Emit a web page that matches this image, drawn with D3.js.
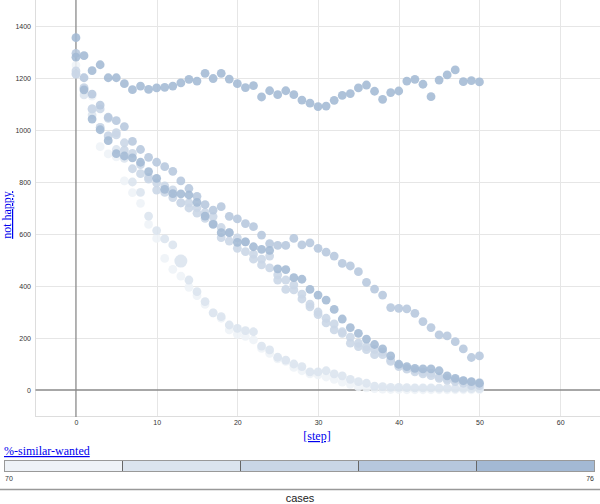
<!DOCTYPE html>
<html><head><meta charset="utf-8">
<script src="https://cdn.jsdelivr.net/npm/d3@7"></script>
<style>
html,body{margin:0;padding:0;background:#fff;}
svg{display:block;}
</style></head>
<body>
<svg id="chart" width="600" height="504"></svg>
<script>
// ---- data ----
const steps = d3.range(0, 51);
const legendValues = [70, 71.5, 73, 74.5, 76];
const legendLabels = ["70", "76"];
const xTicks = [0, 10, 20, 30, 40, 50, 60];
const yTicks = [0, 200, 400, 600, 800, 1000, 1200, 1400];

const seriesA = [1355,1286,1228,1251,1201,1201,1178,1155,1169,1156,1162,1164,1169,1181,1195,1188,1218,1198,1218,1196,1178,1163,1171,1127,1151,1136,1151,1136,1115,1103,1090,1092,1114,1133,1140,1162,1173,1149,1118,1144,1150,1188,1195,1176,1128,1192,1212,1231,1186,1190,1185];
const seriesB = [1295,1201,1138,1096,1049,1036,1013,956,925,895,876,859,841,804,775,745,713,692,705,668,658,640,628,596,563,556,556,583,558,566,545,530,515,487,477,455,414,388,365,317,314,312,295,263,240,212,208,186,158,125,131];
const seriesC = [1280,1154,1042,1001,959,909,900,893,876,840,814,772,755,754,750,722,669,637,605,605,568,570,551,541,537,466,463,432,426,387,365,346,310,273,240,218,196,175,158,131,99,90,83,81,81,74,54,45,36,32,26];
const seriesD = [1227,1163,1081,1081,1045,990,951,910,867,811,797,785,770,720,720,701,682,667,625,605,585,570,523,503,515,443,423,404,369,330,300,276,254,224,203,180,167,156,147,115,95,83,77,70,65,51,45,40,35,30,28];
const seriesE = [1215,1160,1081,1010,977,981,923,851,832,818,769,760,740,720,700,680,660,640,586,573,545,532,503,481,470,423,387,385,350,320,290,258,231,218,180,167,155,136,136,110,90,80,70,62,55,45,38,32,26,17,17];
const seriesF = [1215,1135,1058,1010,977,925,891,800,760,669,613,581,558,496,423,378,340,297,282,250,237,228,224,169,154,126,115,100,90,70,70,74,62,54,41,32,26,15,13,10,10,9,8,8,8,7,7,6,6,5,5];
const seriesG = [1250,1201,1130,936,908,897,804,759,718,637,583,506,464,438,395,363,329,297,276,231,214,206,193,160,141,120,110,87,74,62,58,50,41,30,22,12,8,5,3,2,2,1,1,1,1,1,1,1,1,1,1];

// similar-wanted value of each case (drawn light to dark)
const cases = [
  {wanted: 70,   values: seriesG},
  {wanted: 71.5, values: seriesF, highlight: 13},
  {wanted: 73,   values: seriesE},
  {wanted: 73,   values: seriesD},
  {wanted: 74.5, values: seriesB},
  {wanted: 76,   values: seriesC},
  {wanted: 76,   values: seriesA}
];

// ---- chart ----
const svg = d3.select("#chart");
const x = d3.scaleLinear().domain([-5, 65]).range([35.6, 600.5]);
const y = d3.scaleLinear().domain([-100, 1500]).range([416, 0]);
const color = d3.scaleLinear().domain([70, 76]).range(["#eef2f7", "#a3b9d4"]);

const plot = svg.append("g");

// grid
plot.append("g").selectAll("line").data(yTicks.filter(d => d !== 0)).join("line")
  .attr("x1", 35.5).attr("x2", 600).attr("y1", d => Math.round(y(d)) + 0.5).attr("y2", d => Math.round(y(d)) + 0.5)
  .attr("stroke", "#e6e6e6").attr("stroke-width", 1);
plot.append("g").selectAll("line").data(xTicks.filter(d => d !== 0)).join("line")
  .attr("y1", 0).attr("y2", 416).attr("x1", d => Math.round(x(d)) + 0.5).attr("x2", d => Math.round(x(d)) + 0.5)
  .attr("stroke", "#e6e6e6").attr("stroke-width", 1);

// frame
plot.append("line").attr("x1", 35.5).attr("x2", 35.5).attr("y1", 0).attr("y2", 417).attr("stroke", "#dddddd");
plot.append("line").attr("x1", 35).attr("x2", 600).attr("y1", 416.5).attr("y2", 416.5).attr("stroke", "#dddddd");

// zero lines
plot.append("line").attr("x1", 35.5).attr("x2", 600).attr("y1", y(0)).attr("y2", y(0))
  .attr("stroke", "#8a8a8a").attr("stroke-width", 1.3);
plot.append("line").attr("x1", x(0)).attr("x2", x(0)).attr("y1", 0).attr("y2", 417)
  .attr("stroke", "#8a8a8a").attr("stroke-width", 1.3);

// axes
const yAxis = d3.axisLeft(y).tickValues(yTicks).tickFormat(d3.format("d")).tickSize(0).tickPadding(0);
const gy = svg.append("g").attr("transform", "translate(31,0)").call(yAxis);
gy.select(".domain").remove();
gy.selectAll("text").attr("font-family", "'Liberation Sans', Arial, sans-serif").attr("font-size", 7).attr("fill", "#333");

const xAxis = d3.axisBottom(x).tickValues(xTicks).tickFormat(d3.format("d")).tickSize(0).tickPadding(0);
const gx = svg.append("g").attr("transform", "translate(0,420)").call(xAxis);
gx.select(".domain").remove();
gx.selectAll("text").attr("font-family", "'Liberation Sans', Arial, sans-serif").attr("font-size", 7).attr("fill", "#333");

// points
const pts = plot.append("g");
cases.forEach(c => {
  pts.append("g").selectAll("circle").data(c.values.map((v, i) => ({step: steps[i], v, big: c.highlight === i})))
    .join("circle")
    .attr("cx", d => x(d.step))
    .attr("cy", d => y(d.v))
    .attr("r", d => d.big ? 6.5 : 4.4)
    .attr("fill", color(c.wanted))
    .attr("fill-opacity", 0.88);
});

// axis titles (links)
svg.append("text").attr("x", 317).attr("y", 440).attr("text-anchor", "middle")
  .attr("font-family", "'Liberation Serif', 'Times New Roman', serif").attr("font-size", 12)
  .attr("fill", "#0000ee").attr("text-decoration", "underline").text("[step]");
svg.append("text").attr("transform", "translate(11,215) rotate(-90)").attr("text-anchor", "middle")
  .attr("font-family", "'Liberation Serif', 'Times New Roman', serif").attr("font-size", 12)
  .attr("fill", "#0000ee").attr("text-decoration", "underline").text("not happy");

// legend
svg.append("text").attr("x", 4).attr("y", 455)
  .attr("font-family", "'Liberation Serif', 'Times New Roman', serif").attr("font-size", 12)
  .attr("fill", "#0000ee").attr("text-decoration", "underline").text("%-similar-wanted");

const lx = d3.scaleBand().domain(legendValues).range([4.5, 594.5]);
svg.append("g").selectAll("rect").data(legendValues).join("rect")
  .attr("x", d => lx(d)).attr("y", 460.5).attr("width", lx.bandwidth()).attr("height", 11)
  .attr("fill", d => color(d)).attr("stroke", "#666").attr("stroke-width", 1);
svg.append("rect").attr("x", 4.5).attr("y", 460.5).attr("width", 590).attr("height", 11)
  .attr("fill", "none").attr("stroke", "#999").attr("stroke-width", 1);

svg.append("text").attr("x", 5).attr("y", 481)
  .attr("font-family", "'Liberation Sans', Arial, sans-serif").attr("font-size", 7).attr("fill", "#333").text(legendLabels[0]);
svg.append("text").attr("x", 594).attr("y", 481).attr("text-anchor", "end")
  .attr("font-family", "'Liberation Sans', Arial, sans-serif").attr("font-size", 7).attr("fill", "#333").text(legendLabels[1]);

svg.append("line").attr("x1", 0).attr("x2", 600).attr("y1", 489.5).attr("y2", 489.5)
  .attr("stroke", "#999").attr("stroke-width", 1.5);
svg.append("text").attr("x", 300).attr("y", 502).attr("text-anchor", "middle")
  .attr("font-family", "'Liberation Sans', Arial, sans-serif").attr("font-size", 11).attr("fill", "#222").text("cases");
</script>
</body></html>
